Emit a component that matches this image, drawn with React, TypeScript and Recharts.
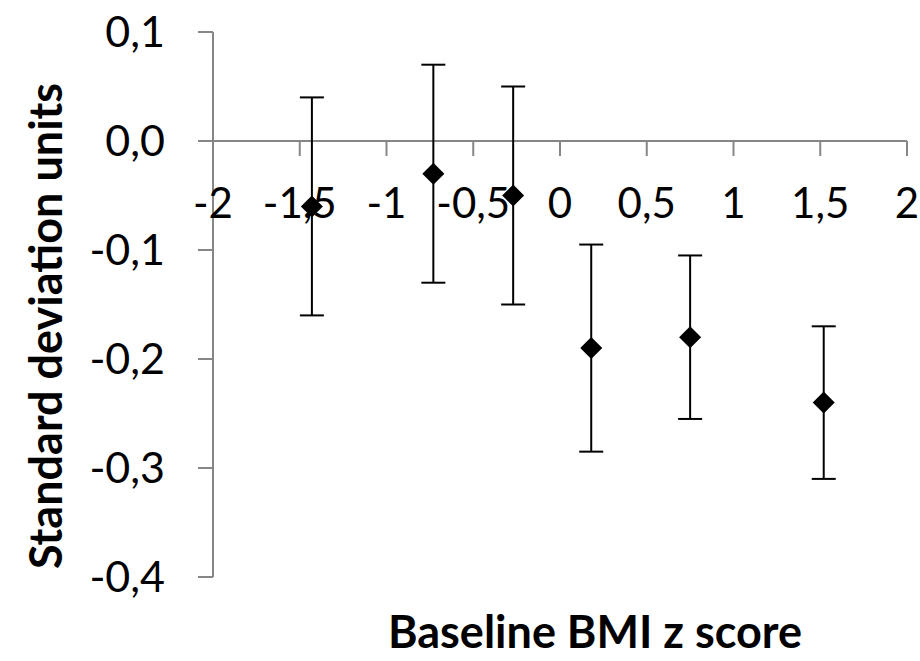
import React from 'react';
import {
  ScatterChart,
  Scatter,
  XAxis,
  YAxis,
  ErrorBar,
  ReferenceLine,
} from 'recharts';

// values
const baselineZ = [-1.43, -0.73, -0.27, 0.18, 0.75, 1.52];
const sdUnits = [-0.06, -0.03, -0.05, -0.19, -0.18, -0.24];
const ciHalf = [0.1, 0.1, 0.1, 0.095, 0.075, 0.07];

const xTicks = [-2, -1.5, -1, -0.5, 0, 0.5, 1, 1.5, 2];
const yTicks = [-0.4, -0.3, -0.2, -0.1, 0, 0.1];

const points = baselineZ.map((x, i) => ({ x, y: sdUnits[i], err: ciHalf[i] }));

const W = 920;
const H = 661;
const TOP = 32;
const BOTTOM = 84;
const Y_MIN = -0.4;
const Y_MAX = 0.1;
const PLOT_H = H - TOP - BOTTOM;
// x axis crosses at y = 0
const Y_ZERO = TOP + (PLOT_H * (Y_MAX - 0)) / (Y_MAX - Y_MIN);

const FONT = 'Lato, "Open Sans", sans-serif';
const AXIS_GREY = '#868686';

const fmt = (v: number) => String(v).replace('.', ',');
const fmtY = (v: number) => v.toFixed(1).replace('.', ',');

const XTick = (props: any) => {
  const { x, payload } = props;
  return (
    <g>
      <line x1={x} x2={x} y1={Y_ZERO} y2={Y_ZERO + 15} stroke={AXIS_GREY} strokeWidth={2} />
      <text x={x} y={Y_ZERO + 77} textAnchor="middle" fontSize={42} fontFamily={FONT} fill="#000">
        {fmt(payload.value)}
      </text>
    </g>
  );
};

const Diamond = (props: any) => {
  const { cx, cy } = props;
  const r = 11;
  return (
    <polygon
      points={`${cx},${cy - r} ${cx + r},${cy} ${cx},${cy + r} ${cx - r},${cy}`}
      fill="#000"
    />
  );
};

export default function App() {
  return (
    <div style={{ position: 'absolute', left: 0, top: 0, width: W, height: H, background: '#fff' }}>
      <ScatterChart
        width={W}
        height={H}
        margin={{ top: TOP, right: 13, bottom: BOTTOM - 30, left: 113 }}
      >
        <XAxis
          type="number"
          dataKey="x"
          domain={[-2, 2]}
          ticks={xTicks}
          axisLine={false}
          tickLine={false}
          tick={<XTick />}
          height={30}
          label={{
            content: () => (
              <text
                x={595}
                y={648}
                textAnchor="middle"
                fontSize={45}
                fontWeight="bold"
                fontFamily={FONT}
                fill="#000"
              >
                Baseline BMI z score
              </text>
            ),
          }}
        />
        <YAxis
          type="number"
          dataKey="y"
          domain={[Y_MIN, Y_MAX]}
          ticks={yTicks}
          width={100}
          tickFormatter={fmtY}
          tickSize={15}
          tickMargin={33}
          axisLine={{ stroke: AXIS_GREY, strokeWidth: 2 }}
          tickLine={{ stroke: AXIS_GREY, strokeWidth: 2 }}
          tick={{ fill: '#000', fontSize: 43, fontFamily: FONT }}
          label={{
            content: () => (
              <text
                x={62}
                y={326}
                textAnchor="middle"
                fontSize={45}
                fontWeight="bold"
                fontFamily={FONT}
                fill="#000"
                transform="rotate(-90 62 326)"
              >
                Standard deviation units
              </text>
            ),
          }}
        />
        <ReferenceLine y={0} stroke={AXIS_GREY} strokeWidth={2} />
        <Scatter data={points} shape={<Diamond />} isAnimationActive={false}>
          <ErrorBar dataKey="err" direction="y" width={12} stroke="#000" strokeWidth={2} />
        </Scatter>
      </ScatterChart>
    </div>
  );
}
